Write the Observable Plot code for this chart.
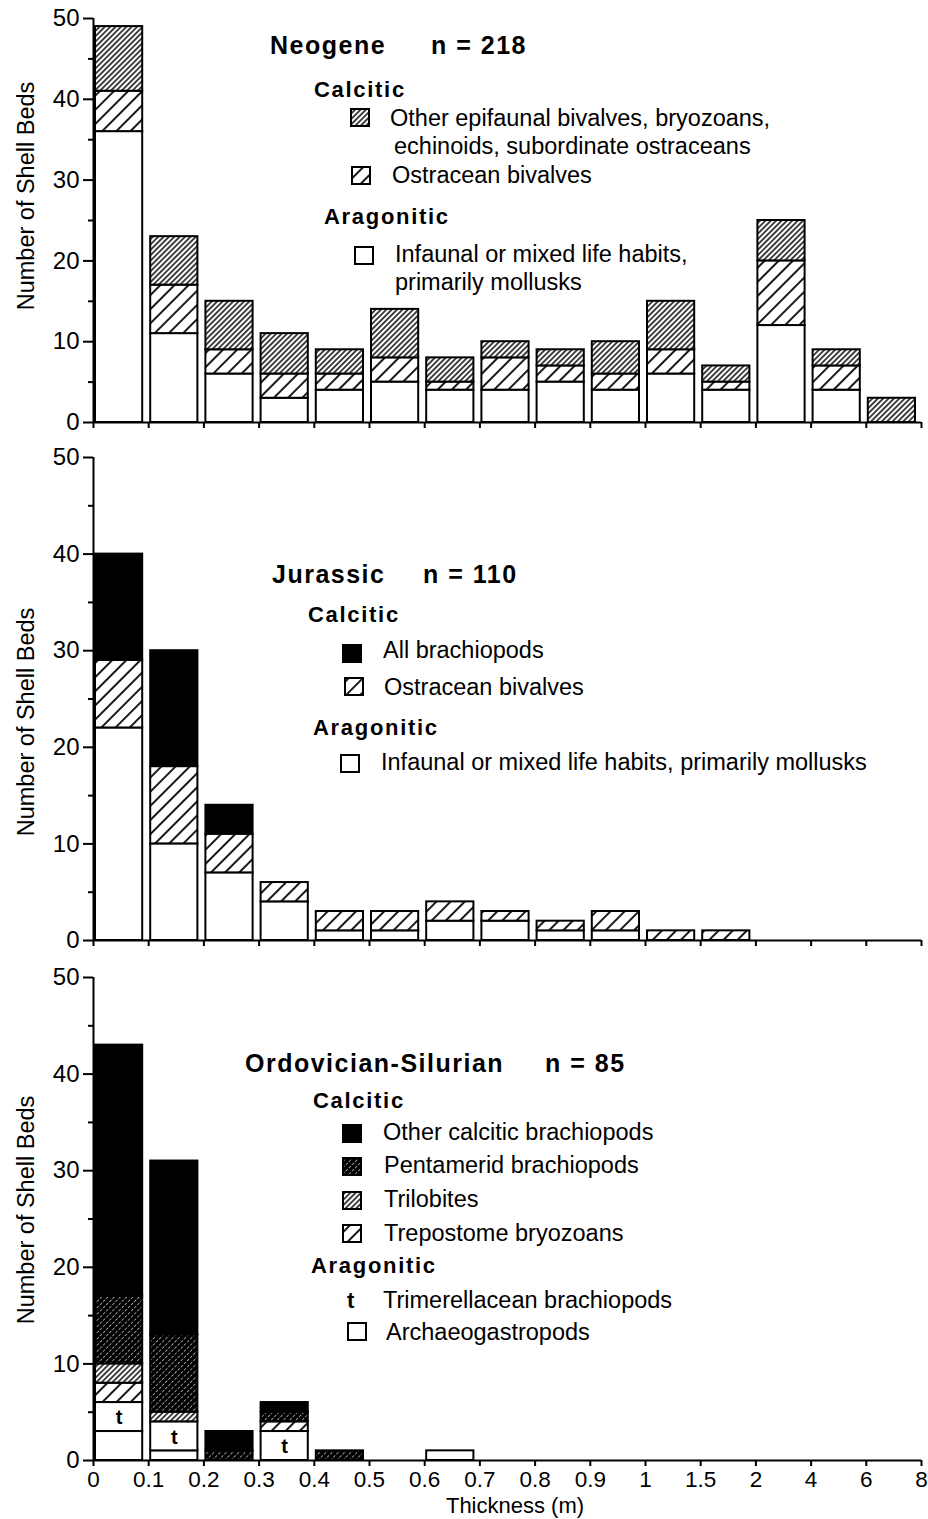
<!DOCTYPE html>
<html>
<head>
<meta charset="utf-8">
<script src="https://cdn.jsdelivr.net/npm/d3@7"></script>
<script src="https://cdn.jsdelivr.net/npm/@observablehq/plot@0.6"></script>
<style>
  html, body { margin: 0; padding: 0; background: white; }
  #chart svg { display: block; }
</style>
</head>
<body>
<svg width="0" height="0" style="position:absolute">
  <defs>
    <pattern id="hatchDense" patternUnits="userSpaceOnUse" width="3.8" height="3.8" patternTransform="rotate(45)">
      <rect width="3.8" height="3.8" fill="white"/>
      <line x1="1.9" y1="0" x2="1.9" y2="3.8" stroke="black" stroke-width="1.45"/>
    </pattern>
    <pattern id="hatchWide" patternUnits="userSpaceOnUse" width="10" height="10" patternTransform="rotate(45)">
      <rect width="10" height="10" fill="white"/>
      <line x1="5" y1="0" x2="5" y2="10" stroke="black" stroke-width="1.8"/>
    </pattern>
    <pattern id="hatchDark" patternUnits="userSpaceOnUse" width="4.4" height="4.4" patternTransform="rotate(45)">
      <rect width="4.4" height="4.4" fill="black"/>
      <line x1="2.2" y1="0" x2="2.2" y2="4.4" stroke="white" stroke-width="0.6" stroke-dasharray="1.6 1.6"/>
    </pattern>
  </defs>
</svg>
<div id="chart"></div>
<script>
// ---------------- DATA ----------------
const thicknessTicks = ["0","0.1","0.2","0.3","0.4","0.5","0.6","0.7","0.8","0.9","1","1.5","2","4","6","8"];
const yMajorTicks = [0, 10, 20, 30, 40, 50];
const yMinorTicks = [5, 15, 25, 35, 45];

// Neogene (n = 218), bins bottom-to-top: infaunal, ostracean, other epifaunal
const neogeneInfaunal    = [36, 11, 6, 3, 4, 5, 4, 4, 5, 4, 6, 4, 12, 4, 0];
const neogeneOstracean   = [ 5,  6, 3, 3, 2, 3, 1, 4, 2, 2, 3, 1,  8, 3, 0];
const neogeneOtherEpi    = [ 8,  6, 6, 5, 3, 6, 3, 2, 2, 4, 6, 2,  5, 2, 3];

// Jurassic (n = 110): infaunal, ostracean, brachiopods
const jurassicInfaunal   = [22, 10, 7, 4, 1, 1, 2, 2, 1, 1, 0, 0, 0, 0, 0];
const jurassicOstracean  = [ 7,  8, 4, 2, 2, 2, 2, 1, 1, 2, 1, 1, 0, 0, 0];
const jurassicBrachiopod = [11, 12, 3, 0, 0, 0, 0, 0, 0, 0, 0, 0, 0, 0, 0];

// Ordovician-Silurian (n = 85)
const ordArchaeogastropod = [ 3,  1, 0, 0, 0, 0, 1, 0, 0, 0, 0, 0, 0, 0, 0];
const ordTrimerellacean   = [ 3,  3, 0, 3, 0, 0, 0, 0, 0, 0, 0, 0, 0, 0, 0];
const ordTrepostome       = [ 2,  0, 0, 1, 0, 0, 0, 0, 0, 0, 0, 0, 0, 0, 0];
const ordTrilobite        = [ 2,  1, 0, 0, 0, 0, 0, 0, 0, 0, 0, 0, 0, 0, 0];
const ordPentamerid       = [ 7,  8, 1, 1, 1, 0, 0, 0, 0, 0, 0, 0, 0, 0, 0];
const ordOtherBrachiopod  = [26, 18, 2, 1, 0, 0, 0, 0, 0, 0, 0, 0, 0, 0, 0];

const panelTitles = ["Neogene", "Jurassic", "Ordovician-Silurian"];
const panelCounts = ["n = 218", "n = 110", "n = 85"];
const yTitle = "Number of Shell Beds";
const xTitle = "Thickness (m)";

// ---------------- STYLES ----------------
const FILL = {
  white: "white",
  black: "black",
  dense: "url(#hatchDense)",
  wide: "url(#hatchWide)",
  dark: "url(#hatchDark)"
};
const FONT = "'Liberation Sans', Arial, Helvetica, sans-serif";

function buildPanel(cfg) {
  const data = [];
  cfg.series.forEach(s => s.values.forEach((v, i) => {
    if (v > 0) data.push({bin: i, value: v, key: s.key});
  }));
  const marks = [
    Plot.rectY(data, {x: "bin", interval: 1, y: "value", fill: "key",
      stroke: "black", strokeWidth: 2, insetLeft: 2, insetRight: 6})
  ];
  if (cfg.tKey) {
    marks.push(Plot.text(data, Plot.stackY({
      x: d => d.bin + 0.5, y: "value",
      text: d => d.key === cfg.tKey ? "t" : "",
      dx: -2, dy: 1, fontWeight: "bold", fontSize: 20
    })));
  }
  marks.push(
    Plot.ruleX([0], {strokeWidth: 2}),
    Plot.ruleY([0], {strokeWidth: 2}),
    Plot.axisY({ticks: yMajorTicks, tickSize: 10, tickPadding: 4, strokeWidth: 2, fontSize: 24, label: null}),
    Plot.axisY({ticks: yMinorTicks, tickSize: 5, tickFormat: () => "", strokeWidth: 2, label: null}),
    Plot.axisX({ticks: d3.range(16), tickSize: 6, tickPadding: 5, strokeWidth: 2, fontSize: 22.5, label: null,
      tickFormat: cfg.labels ? (i => thicknessTicks[i]) : (() => "")})
  );
  const svg = Plot.plot({
    width: 928, height: cfg.height,
    marginLeft: 93, marginRight: 7, marginTop: cfg.mt, marginBottom: cfg.mb,
    x: {domain: [0, 15]},
    y: {domain: [0, 50]},
    color: {type: "ordinal", domain: cfg.series.map(s => s.key), range: cfg.series.map(s => s.fill)},
    style: {fontFamily: FONT, fontSize: "22px", background: "white", color: "black", overflow: "visible"},
    marks
  });
  const s = d3.select(svg);
  const g = s.append("g").attr("font-family", FONT).attr("fill", "black").attr("text-anchor", "start");
  // y axis title
  g.append("text").attr("transform", `translate(34,${cfg.yTitleY}) rotate(-90)`)
    .attr("text-anchor", "middle").attr("font-size", 23.5).text(yTitle);
  if (cfg.labels) {
    g.append("text").attr("x", 515).attr("y", cfg.xTitleY).attr("text-anchor", "middle")
      .attr("font-size", 22).text(xTitle);
  }
  for (const it of cfg.legend) {
    if (it.kind === "swatch") {
      g.append("rect").attr("x", it.x).attr("y", it.y).attr("width", 18).attr("height", 17)
        .attr("fill", it.fill).attr("stroke", "black").attr("stroke-width", 2);
    } else {
      const t = g.append("text").attr("x", it.x).attr("y", it.y).attr("text-anchor", "start").text(it.text);
      if (it.kind === "title") t.attr("font-size", 25).attr("font-weight", "bold").attr("letter-spacing", 1.5);
      else if (it.kind === "head") t.attr("font-size", 22).attr("font-weight", "bold").attr("letter-spacing", 1.7);
      else if (it.kind === "t") t.attr("font-size", 22).attr("font-weight", "bold");
      else t.attr("font-size", 23.5);
    }
  }
  return svg;
}

const root = document.getElementById("chart");

root.appendChild(buildPanel({
  height: 440, mt: 18, mb: 18, labels: false, yTitleY: 196,
  series: [
    {key: "infaunal", values: neogeneInfaunal, fill: FILL.white},
    {key: "ostracean", values: neogeneOstracean, fill: FILL.wide},
    {key: "otherEpi", values: neogeneOtherEpi, fill: FILL.dense}
  ],
  legend: [
    {kind: "title", x: 270, y: 54, text: panelTitles[0]},
    {kind: "title", x: 431, y: 54, text: panelCounts[0]},
    {kind: "head", x: 314, y: 97, text: "Calcitic"},
    {kind: "swatch", x: 351, y: 109, fill: FILL.dense},
    {kind: "label", x: 390, y: 126, text: "Other epifaunal bivalves, bryozoans,"},
    {kind: "label", x: 394, y: 154, text: "echinoids, subordinate ostraceans"},
    {kind: "swatch", x: 352, y: 167, fill: FILL.wide},
    {kind: "label", x: 392, y: 183, text: "Ostracean bivalves"},
    {kind: "head", x: 324, y: 224, text: "Aragonitic"},
    {kind: "swatch", x: 355, y: 247, fill: FILL.white},
    {kind: "label", x: 395, y: 262, text: "Infaunal or mixed life habits,"},
    {kind: "label", x: 395, y: 290, text: "primarily mollusks"}
  ]
}));

root.appendChild(buildPanel({
  height: 520, mt: 17, mb: 20, labels: false, yTitleY: 282,
  series: [
    {key: "infaunal", values: jurassicInfaunal, fill: FILL.white},
    {key: "ostracean", values: jurassicOstracean, fill: FILL.wide},
    {key: "brachiopod", values: jurassicBrachiopod, fill: FILL.black}
  ],
  legend: [
    {kind: "title", x: 272, y: 143, text: panelTitles[1]},
    {kind: "title", x: 423, y: 143, text: panelCounts[1]},
    {kind: "head", x: 308, y: 182, text: "Calcitic"},
    {kind: "swatch", x: 343, y: 205, fill: FILL.black},
    {kind: "label", x: 383, y: 218, text: "All brachiopods"},
    {kind: "swatch", x: 345, y: 238, fill: FILL.wide},
    {kind: "label", x: 384, y: 255, text: "Ostracean bivalves"},
    {kind: "head", x: 313, y: 295, text: "Aragonitic"},
    {kind: "swatch", x: 341, y: 315, fill: FILL.white},
    {kind: "label", x: 381, y: 330, text: "Infaunal or mixed life habits, primarily mollusks"}
  ]
}));

root.appendChild(buildPanel({
  height: 559, mt: 17, mb: 59, labels: true, yTitleY: 250, xTitleY: 553, tKey: "trimerellacean",
  series: [
    {key: "archaeogastropod", values: ordArchaeogastropod, fill: FILL.white},
    {key: "trimerellacean", values: ordTrimerellacean, fill: FILL.white},
    {key: "trepostome", values: ordTrepostome, fill: FILL.wide},
    {key: "trilobite", values: ordTrilobite, fill: FILL.dense},
    {key: "pentamerid", values: ordPentamerid, fill: FILL.dark},
    {key: "otherBrachiopod", values: ordOtherBrachiopod, fill: FILL.black}
  ],
  legend: [
    {kind: "title", x: 245, y: 112, text: panelTitles[2]},
    {kind: "title", x: 545, y: 112, text: panelCounts[2]},
    {kind: "head", x: 313, y: 148, text: "Calcitic"},
    {kind: "swatch", x: 343, y: 165, fill: FILL.black},
    {kind: "label", x: 383, y: 180, text: "Other calcitic brachiopods"},
    {kind: "swatch", x: 343, y: 198, fill: FILL.dark},
    {kind: "label", x: 384, y: 213, text: "Pentamerid brachiopods"},
    {kind: "swatch", x: 343, y: 232, fill: FILL.dense},
    {kind: "label", x: 384, y: 247, text: "Trilobites"},
    {kind: "swatch", x: 343, y: 265, fill: FILL.wide},
    {kind: "label", x: 384, y: 281, text: "Trepostome bryozoans"},
    {kind: "head", x: 311, y: 313, text: "Aragonitic"},
    {kind: "t", x: 347, y: 348, text: "t"},
    {kind: "label", x: 383, y: 348, text: "Trimerellacean brachiopods"},
    {kind: "swatch", x: 348, y: 363, fill: FILL.white},
    {kind: "label", x: 386, y: 380, text: "Archaeogastropods"}
  ]
}));
</script>
</body>
</html>
